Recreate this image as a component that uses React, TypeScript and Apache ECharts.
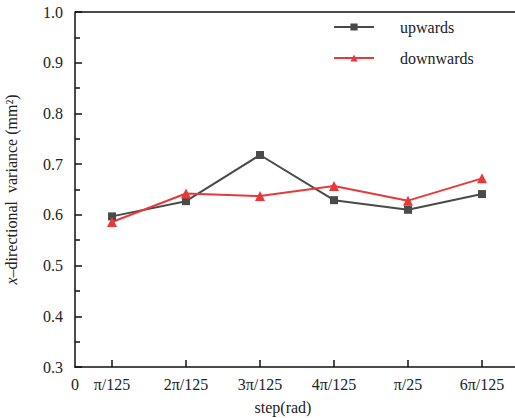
import React, { useEffect, useRef } from "react";
import * as echarts from "echarts";

const categories = ["π/125", "2π/125", "3π/125", "4π/125", "π/25", "6π/125"];
const upwards = [0.597, 0.627, 0.718, 0.629, 0.61, 0.641];
const downwards = [0.586, 0.642, 0.637, 0.657, 0.628, 0.672];
const yTicks = [0.3, 0.4, 0.5, 0.6, 0.7, 0.8, 0.9, 1.0];

const FONT = "Liberation Serif";

export default function App() {
  const ref = useRef<HTMLDivElement>(null);
  useEffect(() => {
    const chart = echarts.init(ref.current!, null, { renderer: "svg" });
    const pos = categories.map((_, i) => i + 0.5);
    const labelMap: Record<string, string> = { "0": "0" };
    pos.forEach((p, i) => (labelMap[String(p)] = categories[i]));
    chart.setOption({
      animation: false,
      backgroundColor: "#fff",
      textStyle: { fontFamily: FONT },
      grid: { left: 75, top: 12, width: 444, height: 355, outerBoundsMode: "none", containLabel: false },
      legend: {
        orient: "vertical",
        left: 328,
        top: 14,
        itemWidth: 40,
        itemHeight: 9,
        itemGap: 15,
        textStyle: { fontFamily: FONT, fontSize: 16, color: "#222", padding: [0, 0, 0, 21] },
        data: ["upwards", "downwards"],
      },
      xAxis: {
        type: "value",
        min: 0,
        max: categories.length,
        name: "step(rad)",
        nameLocation: "middle",
        nameGap: 32,
        nameTextStyle: { fontFamily: FONT, fontSize: 16, color: "#222", padding: [0, 0, 0, -28] },
        axisLine: { lineStyle: { color: "#111", width: 1.5 } },
        axisTick: { inside: true, length: 7, lineStyle: { color: "#111", width: 1.5 }, customValues: pos },
        axisLabel: {
          customValues: [0, ...pos],
          formatter: (v: number) => labelMap[String(v)] ?? "",
          fontFamily: FONT,
          fontSize: 16,
          color: "#222",
          margin: 9,
        },
        splitLine: { show: false },
      },
      yAxis: {
        type: "value",
        min: 0.3,
        max: 1.0,
        interval: 0.1,
        name: "{i|x}–directional  variance (mm²)",
        nameLocation: "middle",
        nameGap: 56,
        nameTextStyle: {
          fontFamily: FONT,
          fontSize: 16,
          color: "#222",
          rich: { i: { fontStyle: "italic", fontFamily: FONT, fontSize: 16, color: "#222" } },
        },
        axisLine: { show: true, lineStyle: { color: "#111", width: 1.5 } },
        axisTick: { inside: true, length: 7, lineStyle: { color: "#111", width: 1.5 } },
        minorTick: { show: true, splitNumber: 2, length: 5, lineStyle: { color: "#111", width: 1.5 } },
        axisLabel: {
          formatter: (v: number) => v.toFixed(1),
          fontFamily: FONT,
          fontSize: 16,
          color: "#222",
          margin: 12,
        },
        splitLine: { show: false },
      },
      graphic: [
        {
          type: "line",
          shape: { x1: 75, y1: 12, x2: 519, y2: 12 },
          style: { stroke: "#111", lineWidth: 1.5 },
        },
      ],
      series: [
        {
          name: "upwards",
          type: "line",
          data: upwards.map((v, i) => [pos[i], v]),
          symbol: "rect",
          symbolSize: 8,
          itemStyle: { color: "#4a4a4a" },
          lineStyle: { color: "#4a4a4a", width: 2 },
        },
        {
          name: "downwards",
          type: "line",
          data: downwards.map((v, i) => [pos[i], v]),
          symbol: "triangle",
          symbolSize: 10,
          itemStyle: { color: "#e8393a" },
          lineStyle: { color: "#e8393a", width: 2 },
        },
      ],
    });
    return () => chart.dispose();
  }, []);
  return <div ref={ref} style={{ position: "fixed", left: 0, top: 0, width: 515, height: 418 }} />;
}
